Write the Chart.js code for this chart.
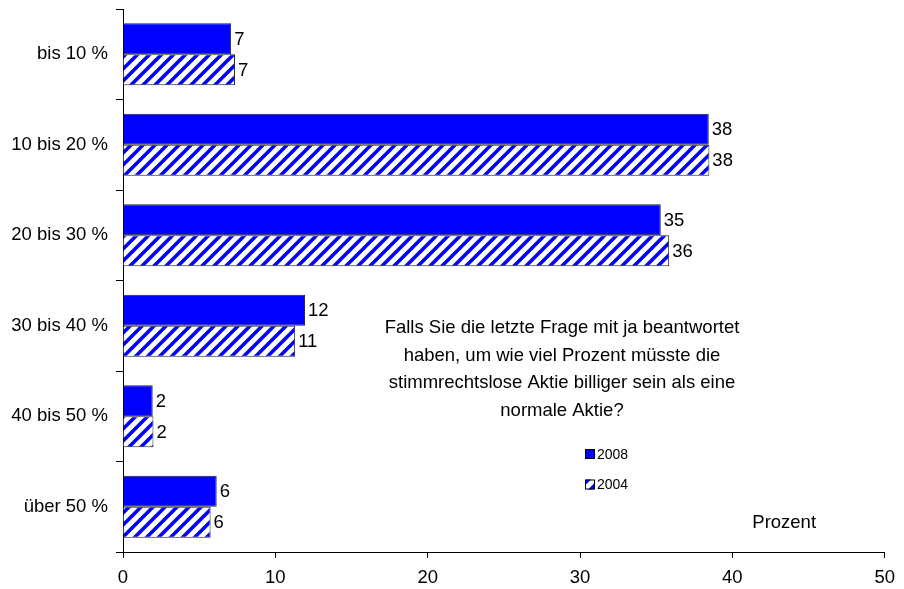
<!DOCTYPE html>
<html>
<head>
<meta charset="utf-8">
<script src="https://cdn.jsdelivr.net/npm/chart.js@4/dist/chart.umd.min.js"></script>
<style>
  html, body { margin: 0; padding: 0; background: #fff; }
  #chart { display: block; }
</style>
</head>
<body>
<canvas id="chart" width="904" height="589"></canvas>
<script>
const categories = ["bis 10 %", "10 bis 20 %", "20 bis 30 %", "30 bis 40 %", "40 bis 50 %", "über 50 %"];
const values2008 = [7.1, 38.45, 35.3, 11.95, 1.95, 6.15];
const values2004 = [7.35, 38.49, 35.85, 11.3, 2.0, 5.75];
const xTicks = [0, 10, 20, 30, 40, 50];
const noteLines = [
  "Falls Sie die letzte Frage mit ja beantwortet",
  "haben, um wie viel Prozent müsste die",
  "stimmrechtslose Aktie billiger sein als eine",
  "normale Aktie?"
];

const FONT = "'Liberation Sans', Arial, sans-serif";
const BIG = 18.5;
const BLUE = "#0000ff";

// diagonal blue/white hatch for the 2004 bars
function makeHatch() {
  const s = 12;
  const c = document.createElement("canvas");
  c.width = s;
  c.height = s;
  const g = c.getContext("2d");
  g.fillStyle = "#fff";
  g.fillRect(0, 0, s, s);
  g.strokeStyle = BLUE;
  g.lineWidth = 3.6;
  g.beginPath();
  g.moveTo(-2, s + 2); g.lineTo(s + 2, -2);
  g.moveTo(-s / 2 - 2, s / 2 + 2); g.lineTo(s / 2 + 2, -s / 2 - 2);
  g.moveTo(s / 2 - 2, s * 1.5 + 2); g.lineTo(s * 1.5 + 2, s / 2 - 2);
  g.stroke();
  return g.createPattern(c, "repeat");
}

const ctx = document.getElementById("chart").getContext("2d");
const hatch = makeHatch();

// value labels at the bar ends
const valueLabels = {
  id: "valueLabels",
  afterDatasetsDraw(chart) {
    const c = chart.ctx;
    c.save();
    c.font = BIG + "px " + FONT;
    c.fillStyle = "#000";
    c.textBaseline = "middle";
    c.textAlign = "left";
    chart.data.datasets.forEach((ds, i) => {
      chart.getDatasetMeta(i).data.forEach((bar, j) => {
        c.fillText(String(Math.round(ds.data[j])), bar.x + 3, bar.y + 1);
      });
    });
    c.restore();
  }
};

// question text, small legend and axis caption inside the plot
const extras = {
  id: "extras",
  afterDraw(chart) {
    const c = chart.ctx;
    const x = chart.scales.x;
    c.save();
    c.fillStyle = "#000";
    c.font = BIG + "px " + FONT;
    c.textAlign = "center";
    c.textBaseline = "middle";
    noteLines.forEach((t, i) => c.fillText(t, 562, 328 + i * 27.7));

    c.font = "14px " + FONT;
    c.textAlign = "left";
    chart.data.datasets.forEach((ds, i) => {
      const y = 454 + i * 30.5;
      c.fillStyle = ds.backgroundColor;
      c.fillRect(585, y - 5, 10, 10);
      c.strokeStyle = "#000";
      c.lineWidth = 1;
      c.strokeRect(585.5, y - 4.5, 9, 9);
      c.fillStyle = "#000";
      c.fillText(ds.label, 597, y + 1);
    });

    c.font = BIG + "px " + FONT;
    c.textAlign = "center";
    c.fillText("Prozent", x.getPixelForValue(43.4), 523);
    c.restore();
  }
};

new Chart(ctx, {
  type: "bar",
  data: {
    labels: categories,
    datasets: [
      {
        label: "2008",
        data: values2008,
        backgroundColor: BLUE,
        borderColor: "#222",
        borderWidth: 1,
        borderSkipped: "start"
      },
      {
        label: "2004",
        data: values2004,
        backgroundColor: hatch,
        borderColor: "#222",
        borderWidth: 1,
        borderSkipped: "start"
      }
    ]
  },
  options: {
    responsive: false,
    animation: false,
    indexAxis: "y",
    layout: { padding: { top: 9, right: 19, left: 0, bottom: 0 } },
    datasets: {
      bar: { categoryPercentage: 0.685, barPercentage: 1.0 }
    },
    plugins: {
      legend: { display: false },
      title: { display: false },
      tooltip: { enabled: false }
    },
    scales: {
      x: {
        min: 0,
        max: 50,
        afterBuildTicks(scale) {
          scale.ticks = xTicks.map((v) => ({ value: v }));
        },
        afterFit(scale) { scale.height = 37; },
        border: { display: true, color: "#000", width: 1 },
        grid: { drawOnChartArea: false, drawTicks: true, tickLength: 6, color: "#000" },
        ticks: {
          color: "#000",
          font: { family: FONT, size: BIG },
          padding: 9,
          maxRotation: 0
        }
      },
      y: {
        offset: true,
        afterFit(scale) {
          scale.width = 123;
          scale.paddingTop = 0;
          scale.paddingBottom = 0;
        },
        border: { display: true, color: "#000", width: 1 },
        grid: { offset: true, drawOnChartArea: false, drawTicks: true, tickLength: 7, color: "#000" },
        ticks: {
          color: "#000",
          font: { family: FONT, size: BIG },
          padding: 8
        }
      }
    }
  },
  plugins: [valueLabels, extras]
});
</script>
</body>
</html>
